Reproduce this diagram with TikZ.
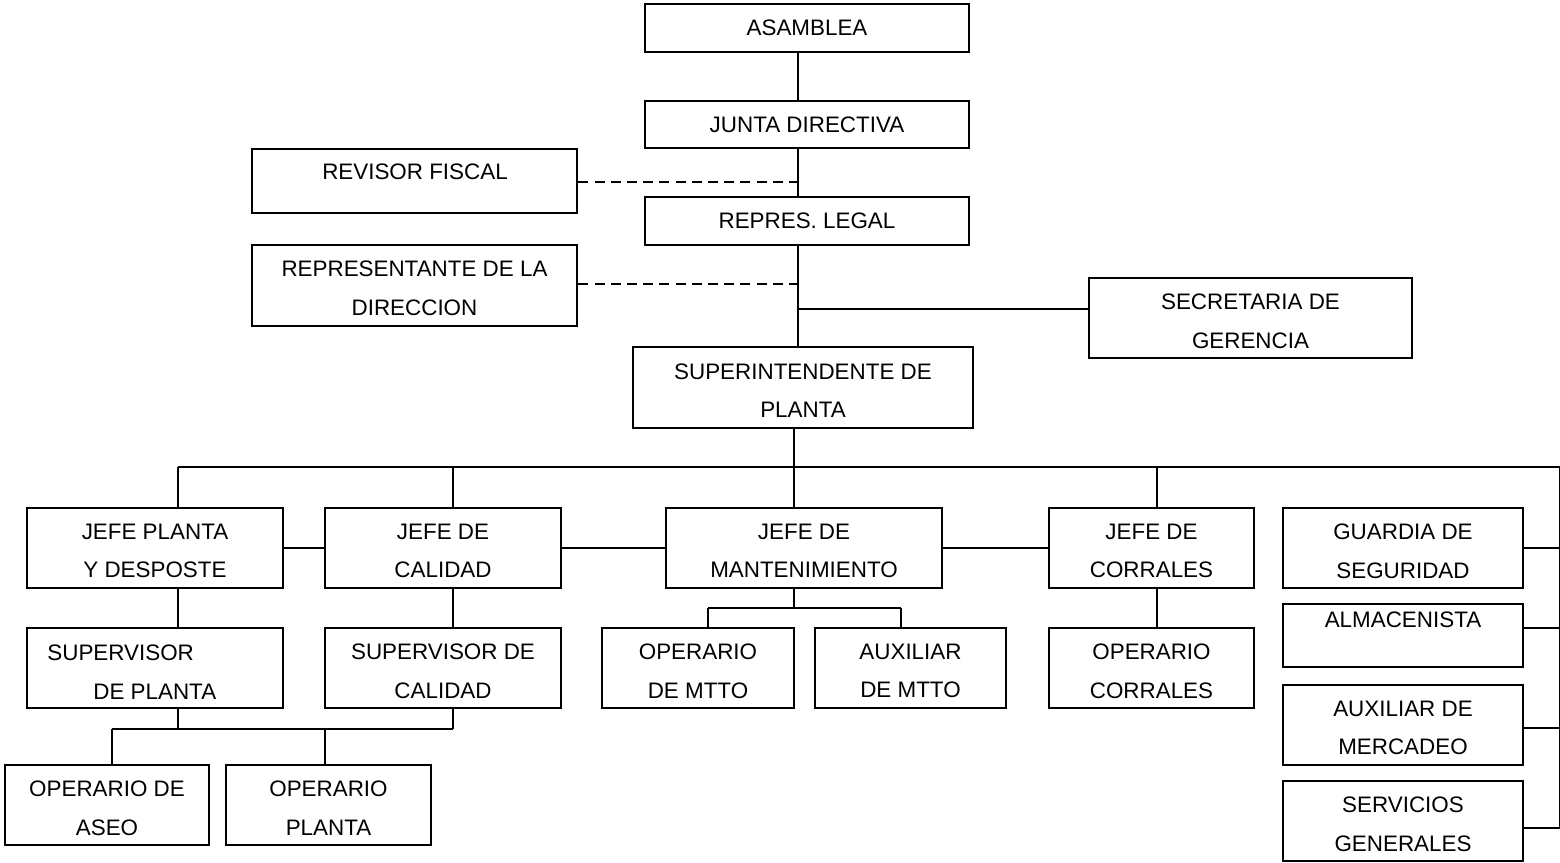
\documentclass[tikz,border=0pt]{standalone}
\usepackage{fontspec}
\setmainfont{Liberation Sans}
\begin{document}
\begin{tikzpicture}[x=0.5pt,y=-0.5pt,
  orgbox/.style={draw,line width=1.3pt,fill=white,rectangle,inner sep=0pt},
  txt/.style={inner sep=0pt,align=center,font=\fontsize{11.2}{19.3}\selectfont},
  twoline/.style={yshift=-1.5pt},
  link/.style={line width=1.3pt},
  dotlink/.style={line width=1.3pt,dash pattern=on 5pt off 3.1pt}]
% box given by name, left, top, right, bottom (in pixel units) and its text
\newcommand\orgnode[6]{\node[orgbox,minimum width={(#4-#2)*0.5pt},minimum height={(#5-#3)*0.5pt}]
  (#1) at ({(#2+#4)/2},{(#3+#5)/2}) {};
  \node[txt,twoline] (#1t) at (#1.center) {#6};}
% single-line box, text centred
\newcommand\orgline[6]{\node[orgbox,minimum width={(#4-#2)*0.5pt},minimum height={(#5-#3)*0.5pt}]
  (#1) at ({(#2+#4)/2},{(#3+#5)/2}) {};
  \node[txt] (#1t) at (#1.center) {#6};}
\fill[white] (0,0) rectangle (1560,863);
\useasboundingbox (0,0) rectangle (1560,863);

% guide coordinates for the connector lines
\coordinate (spine) at (798,0);
\coordinate (supdrop) at (794,0);
\coordinate (bus) at (0,467);
\coordinate (revj) at (0,182);
\coordinate (repj) at (0,284);
\coordinate (secjoin) at (798,309);
\coordinate (rightbus) at (1560,0);
\coordinate (mttojoin) at (0,608);
\coordinate (opjoin) at (0,729);
\coordinate (almj) at (0,628);
\coordinate (auxj) at (0,728);
\coordinate (servj) at (0,828);
\coordinate (d1) at (178,0);
\coordinate (d2) at (453,0);
\coordinate (d4) at (1157,0);
\coordinate (d5) at (112,0);
\coordinate (d6) at (325,0);
\coordinate (d7) at (708,0);
\coordinate (d8) at (901,0);

% top of the hierarchy
\orgline{asam}{645}{4}{969}{52}{ASAMBLEA}
\orgline{junta}{645}{101}{969}{148}{JUNTA DIRECTIVA}
\orgline{repl}{645}{197}{969}{245}{REPRES. LEGAL}
\orgnode{rev}{252}{149}{577}{213}{}
\node[txt] (revtx) at (415,172) {REVISOR FISCAL};
\orgnode{rep}{252}{245}{577}{326}{REPRESENTANTE DE LA\\DIRECCION}
\orgnode{sec}{1089}{278}{1412}{358}{SECRETARIA DE\\GERENCIA}
\orgnode{sup}{633}{347}{973}{428}{SUPERINTENDENTE DE\\PLANTA}

% department heads
\orgnode{jp}{27}{508}{283}{588}{JEFE PLANTA\\Y DESPOSTE}
\orgnode{jc}{325}{508}{561}{588}{JEFE DE\\CALIDAD}
\orgnode{jm}{666}{508}{942}{588}{JEFE DE\\MANTENIMIENTO}
\orgnode{jco}{1049}{508}{1254}{588}{JEFE DE\\CORRALES}
\orgnode{gua}{1283}{508}{1523}{588}{GUARDIA DE\\SEGURIDAD}
\orgnode{alm}{1283}{604}{1523}{667}{}
\node[txt] (almtx) at (1403,620) {ALMACENISTA};
\orgnode{aux}{1283}{685}{1523}{765}{AUXILIAR DE\\MERCADEO}
\orgnode{serv}{1283}{781}{1523}{861}{SERVICIOS\\GENERALES}

% second level
\orgnode{sp}{27}{628}{283}{708}{}
\node[txt,align=left,anchor=west] (sptx) at (47,672) {SUPERVISOR\\\hspace*{23pt}DE PLANTA};
\orgnode{sc}{325}{628}{561}{708}{SUPERVISOR DE\\CALIDAD}
\orgnode{om}{602}{628}{794}{708}{OPERARIO\\DE MTTO}
\orgnode{am}{815}{628}{1006}{708}{AUXILIAR\\DE MTTO}
\orgnode{oc}{1049}{628}{1254}{708}{OPERARIO\\CORRALES}

% operators
\orgnode{oa}{5}{765}{209}{845}{OPERARIO DE\\ASEO}
\orgnode{opl}{226}{765}{431}{845}{OPERARIO\\PLANTA}

% main spine
\draw[link] (asam.south -| spine) -- (junta.north -| spine);
\draw[link] (junta.south -| spine) -- (repl.north -| spine);
\draw[link] (repl.south -| spine) -- (sup.north -| spine);
\draw[dotlink] (rev.east |- revj) -- (spine |- revj);
\draw[dotlink] (rep.east |- repj) -- (spine |- repj);
\draw[link] (secjoin) -- (secjoin -| sec.west);

% bus below the superintendent
\draw[link] (sup.south -| supdrop) -- (bus -| supdrop);
\draw[link] (bus -| d1) -- (bus -| rightbus) -- (servj -| rightbus);
\draw[link] (bus -| d1) -- (jp.north -| d1);
\draw[link] (bus -| d2) -- (jc.north -| d2);
\draw[link] (bus -| supdrop) -- (jm.north -| supdrop);
\draw[link] (bus -| d4) -- (jco.north -| d4);
\draw[link] (jp.east) -- (jc.west);
\draw[link] (jc.east) -- (jm.west);
\draw[link] (jm.east) -- (jco.west);

% right-hand staff column
\draw[link] (gua.east) -- (gua.east -| rightbus);
\draw[link] (alm.east |- almj) -- (rightbus |- almj);
\draw[link] (aux.east |- auxj) -- (rightbus |- auxj);
\draw[link] (serv.east |- servj) -- (rightbus |- servj);

% second-level links
\draw[link] (jp.south -| d1) -- (sp.north -| d1);
\draw[link] (jc.south -| d2) -- (sc.north -| d2);
\draw[link] (jm.south -| supdrop) -- (mttojoin -| supdrop);
\draw[link] (mttojoin -| d7) -- (mttojoin -| d8);
\draw[link] (mttojoin -| d7) -- (om.north -| d7);
\draw[link] (mttojoin -| d8) -- (am.north -| d8);
\draw[link] (jco.south -| d4) -- (oc.north -| d4);

% operators links
\draw[link] (sp.south -| d1) -- (opjoin -| d1);
\draw[link] (sc.south -| d2) -- (opjoin -| d2);
\draw[link] (opjoin -| d5) -- (opjoin -| d2);
\draw[link] (opjoin -| d5) -- (oa.north -| d5);
\draw[link] (opjoin -| d6) -- (opl.north -| d6);
\end{tikzpicture}
\end{document}
